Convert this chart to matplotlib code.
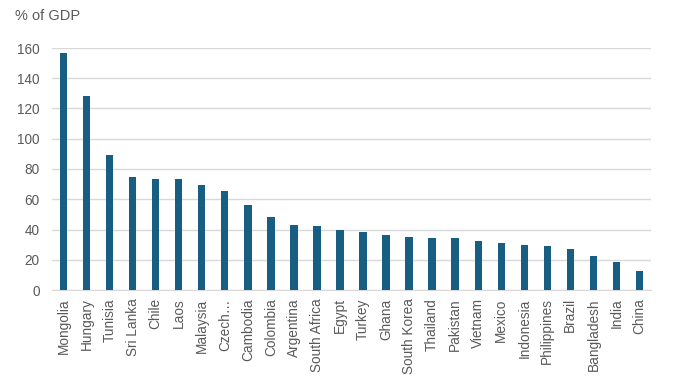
import matplotlib
matplotlib.use('Agg')
import matplotlib.pyplot as plt
import numpy as np

countries = ['Mongolia', 'Hungary', 'Tunisia', 'Sri Lanka', 'Chile', 'Laos', 'Malaysia',
             'Czech…', 'Cambodia', 'Colombia', 'Argentina', 'South Africa', 'Egypt',
             'Turkey', 'Ghana', 'South Korea', 'Thailand', 'Pakistan', 'Vietnam', 'Mexico',
             'Indonesia', 'Philippines', 'Brazil', 'Bangladesh', 'India', 'China']
values = [157, 128, 89.5, 75, 73.5, 73.5, 69.5, 65.5, 56.5, 48, 43, 42, 40,
          38.5, 36.5, 35.2, 34.6, 34.6, 32.6, 31.3, 30, 29.3, 27.3, 22.6, 18.5, 12.6]
yticks = [0, 20, 40, 60, 80, 100, 120, 140, 160]

plt.rcParams['font.family'] = ['Liberation Sans', 'DejaVu Sans']
grey = '#595959'

fig = plt.figure(figsize=(6.8, 3.92), dpi=100)
ax = fig.add_axes([52/680, 1 - 290/392, 599/680, 242/392])

x = np.arange(len(countries))
ax.bar(x, values, width=0.32, color='#175e82', zorder=3)

ax.set_xlim(-0.5, len(countries) - 0.5)
ax.set_ylim(0, 160)
ax.set_yticks(yticks)
ax.set_xticks(x)
ax.set_xticklabels(countries, rotation=90)
ax.tick_params(axis='both', length=0, labelsize=9.8, colors=grey)
ax.tick_params(axis='y', pad=9)
ax.tick_params(axis='x', pad=6)
ax.grid(axis='y', color='#d9d9d9', linewidth=1, zorder=0)
for s in ['top', 'right', 'left']:
    ax.spines[s].set_visible(False)
ax.spines['bottom'].set_color('#d9d9d9')

fig.text(15/680, 1 - 16/392, '% of GDP', fontsize=10.5, color=grey, va='center')

fig.savefig('out.png', dpi=100)
